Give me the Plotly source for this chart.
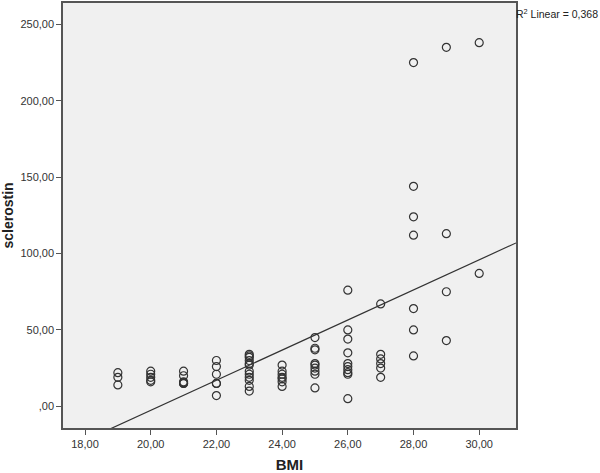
import numpy as np
import plotly.graph_objects as go

# BMI values and the sclerostin readings seen at each one
bmi_levels = [19, 20, 21, 22, 23, 24, 25, 26, 27, 28, 29, 30]
sclerostin_by_bmi = [
    [22, 19, 14],
    [23, 21, 19, 17, 16],
    [23, 20, 16, 15.5, 15, 15],
    [30, 26, 21, 15, 15, 7],
    [34, 33, 32, 30, 28, 27, 23, 21, 19, 17, 13, 10],
    [27, 23, 21, 19, 18, 16, 13],
    [45, 38, 37, 28, 27, 25, 23, 21, 12],
    [76, 50, 44, 35, 28, 26, 24, 22, 21, 5],
    [67, 34, 31, 28, 25, 19],
    [225, 144, 124, 112, 64, 50, 33],
    [235, 113, 75, 43],
    [238, 87],
]

x_tick_vals = [18, 20, 22, 24, 26, 28, 30]
x_tick_text = ["18,00", "20,00", "22,00", "24,00", "26,00", "28,00", "30,00"]
y_tick_vals = [0, 50, 100, 150, 200, 250]
y_tick_text = [",00", "50,00", "100,00", "150,00", "200,00", "250,00"]
r2_label = "R<sup>2</sup> Linear = 0,368"

bmi = []
scl = []
for b, vals in zip(bmi_levels, sclerostin_by_bmi):
    for v in vals:
        bmi.append(b)
        scl.append(v)

x_range = [17.33, 31.12]
y_range = [-14.2, 264]

# least squares fit line, drawn across the whole x range
slope, intercept = np.polyfit(bmi, scl, 1)
line_x = np.array(x_range)
line_y = slope * line_x + intercept

fig = go.Figure()
fig.add_trace(go.Scatter(
    x=line_x, y=line_y, mode="lines",
    line=dict(color="#333333", width=1.2),
    hoverinfo="skip", showlegend=False
))
fig.add_trace(go.Scatter(
    x=bmi, y=scl, mode="markers",
    marker=dict(symbol="circle-open", size=8, color="#333333",
                line=dict(color="#333333", width=1.2)),
    showlegend=False
))

axis_font = dict(family="Liberation Sans, Arial", size=11, color="#333333")
fig.update_layout(
    width=600, height=473,
    margin=dict(l=63, r=84, t=1, b=42),
    paper_bgcolor="white",
    plot_bgcolor="#f0f0f0",
    font=axis_font,
    xaxis=dict(
        range=x_range, tickvals=x_tick_vals, ticktext=x_tick_text,
        showgrid=False, zeroline=False,
        showline=True, linecolor="#555555", linewidth=1.5, mirror=True,
        ticks="outside", ticklen=5, tickcolor="#555555",
        title=dict(text="<b>BMI</b>", font=dict(family="Liberation Sans, Arial",
                   size=15, color="#222222"), standoff=12),
    ),
    yaxis=dict(
        range=y_range, tickvals=y_tick_vals, ticktext=y_tick_text,
        showgrid=False, zeroline=False,
        showline=True, linecolor="#555555", linewidth=1.5, mirror=True,
        ticks="outside", ticklen=5, tickcolor="#555555",
        title=dict(text="<b>sclerostin</b>", font=dict(family="Liberation Sans, Arial",
                   size=14, color="#222222"), standoff=8),
    ),
    annotations=[dict(
        text=r2_label, x=1.0, y=0.995, xref="paper", yref="paper",
        xanchor="left", yanchor="top", showarrow=False, xshift=-2,
        font=dict(family="Liberation Sans, Arial", size=10.5, color="#222222"),
    )],
)

fig.write_html("out.html", config={"displayModeBar": False},
               post_script="document.body.style.margin='0';")
